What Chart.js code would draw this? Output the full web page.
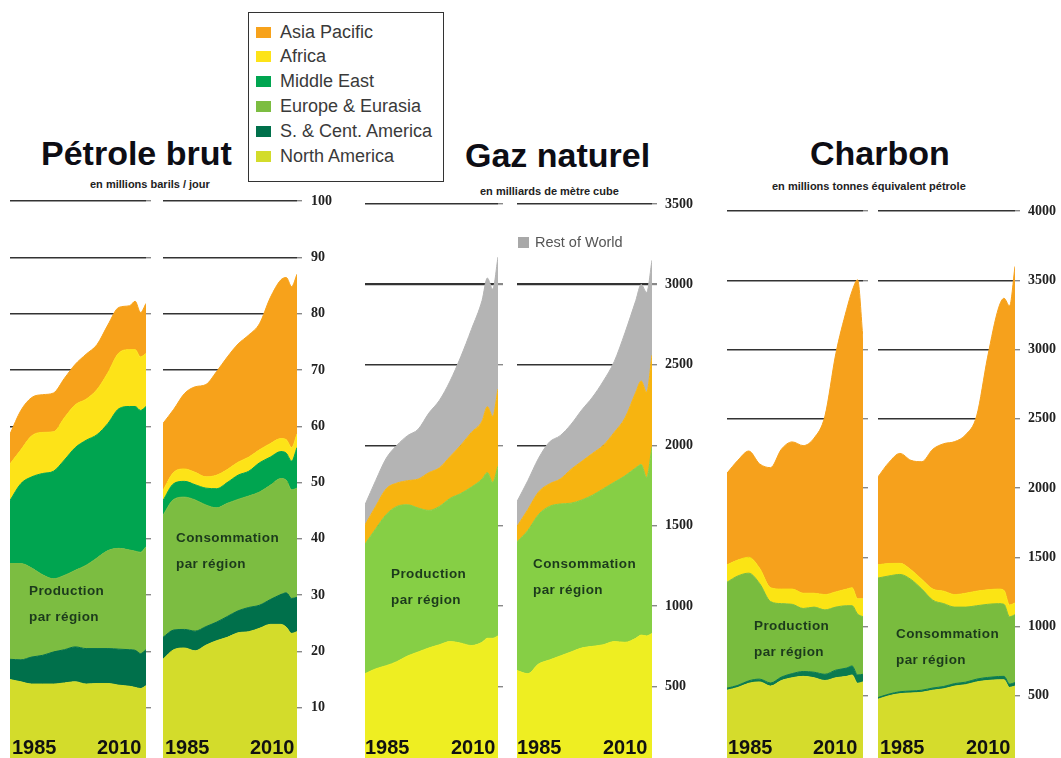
<!DOCTYPE html>
<html lang="fr">
<head>
<meta charset="utf-8">
<title>Pétrole, gaz et charbon par région</title>
<script src="https://cdn.jsdelivr.net/npm/chart.js@4.4.1/dist/chart.umd.min.js"></script>
<style>
  html, body { margin: 0; padding: 0; background: #fff; width: 1061px; height: 758px; overflow: hidden; }
  #page { position: relative; width: 1061px; height: 758px; font-family: "Liberation Sans", Arial, sans-serif; }
  canvas { position: absolute; }
  .title { position: absolute; font-weight: bold; font-size: 34px; line-height: 1; color: #0d0d14; white-space: nowrap; }
  .unit { position: absolute; font-weight: bold; font-size: 11px; line-height: 1; color: #222; white-space: nowrap; }
  .year { position: absolute; top: 737px; font-weight: bold; font-size: 20px; line-height: 1; color: #111; }
  .note { position: absolute; font-weight: bold; font-size: 13.5px; line-height: 26px; letter-spacing: 0.4px; color: #1c3a1c; white-space: nowrap; }
  #legend { position: absolute; left: 248px; top: 12px; width: 194px; height: 168px; border: 1px solid #333; background: #fff; }
  #legend .row { position: absolute; left: 0; height: 25px; line-height: 25px; font-size: 18px; color: #3a3a3a; white-space: nowrap; }
  #legend .sw { position: absolute; left: 7px; top: 7px; width: 15px; height: 11px; }
  #legend .txt { position: absolute; left: 31px; top: 0; }
  #row-legend { position: absolute; left: 518px; top: 234px; height: 16px; line-height: 16px; font-size: 14.5px; color: #555; white-space: nowrap; }
  #row-legend span { display: inline-block; width: 11px; height: 11px; background: #a8a8a8; margin-right: 6px; vertical-align: -1px; }
</style>
</head>
<body>
<div id="page">
  <div class="title" style="left:41px; top:135.6px;">Pétrole brut</div>
  <div class="title" style="left:465px; top:137.6px;">Gaz naturel</div>
  <div class="title" style="left:810px; top:135.6px;">Charbon</div>

  <div class="unit" style="left:90px; top:178.6px;">en millions barils / jour</div>
  <div class="unit" style="left:480px; top:185.5px;">en milliards de mètre cube</div>
  <div class="unit" style="left:772px; top:180.5px;">en millions tonnes équivalent pétrole</div>

  <canvas id="oilProd"></canvas>
  <canvas id="oilCons"></canvas>
  <canvas id="gasProd"></canvas>
  <canvas id="gasCons"></canvas>
  <canvas id="coalProd"></canvas>
  <canvas id="coalCons"></canvas>

  <div id="legend"></div>
  <div id="row-legend"><span></span>Rest of World</div>

  <div class="note" style="left:29px; top:578px;">Production<br>par région</div>
  <div class="note" style="left:176px; top:525px;">Consommation<br>par région</div>
  <div class="note" style="left:391px; top:561px;">Production<br>par région</div>
  <div class="note" style="left:533px; top:551px;">Consommation<br>par région</div>
  <div class="note" style="left:754px; top:613px;">Production<br>par région</div>
  <div class="note" style="left:896px; top:621px;">Consommation<br>par région</div>

  <div class="year" style="left:12px;">1985</div>
  <div class="year" style="left:97px;">2010</div>
  <div class="year" style="left:165px;">1985</div>
  <div class="year" style="left:250px;">2010</div>
  <div class="year" style="left:365px;">1985</div>
  <div class="year" style="left:451px;">2010</div>
  <div class="year" style="left:517px;">1985</div>
  <div class="year" style="left:603px;">2010</div>
  <div class="year" style="left:728px;">1985</div>
  <div class="year" style="left:813px;">2010</div>
  <div class="year" style="left:880px;">1985</div>
  <div class="year" style="left:966px;">2010</div>
</div>

<script>
// years sampled along the x axis
const years = [1985, 1987, 1989, 1991, 1993, 1995, 1997, 1999, 2001, 2003, 2005, 2007, 2008, 2009, 2010];

const regions = ['Asia Pacific', 'Africa', 'Middle East', 'Europe & Eurasia', 'S. & Cent. America', 'North America'];

// Pétrole brut - production (millions barils / jour)
const oilProdNorthAmerica = [15.0, 14.6, 14.2, 14.2, 14.2, 14.4, 14.6, 14.2, 14.3, 14.3, 14.0, 13.8, 13.6, 13.4, 13.9];
const oilProdSouthAmerica = [3.6, 3.9, 4.8, 5.1, 5.7, 5.9, 6.2, 6.3, 6.2, 6.2, 6.4, 6.5, 6.6, 6.2, 6.4];
const oilProdEurope = [17.0, 17.1, 15.8, 14.3, 13.0, 13.2, 13.6, 14.8, 16.1, 17.4, 17.9, 17.7, 17.6, 18.0, 18.3];
const oilProdMiddleEast = [11.2, 14.2, 16.2, 18.0, 19.1, 20.5, 21.8, 22.2, 21.9, 22.6, 24.8, 25.5, 25.7, 25.2, 24.9];
const oilProdAfrica = [6.5, 6.0, 7.3, 7.3, 7.0, 7.5, 7.6, 7.3, 8.0, 9.0, 9.9, 10.1, 10.1, 9.5, 9.4];
const oilProdAsia = [5.3, 7.0, 6.8, 6.7, 6.9, 7.0, 7.2, 8.0, 8.0, 8.5, 8.1, 7.8, 8.6, 7.9, 8.9];

// Pétrole brut - consommation
const oilConsNorthAmerica = [18.6, 20.3, 20.6, 20.1, 21.1, 21.9, 22.5, 23.3, 23.5, 24.1, 24.8, 24.8, 24.3, 23.2, 23.5];
const oilConsSouthAmerica = [3.9, 3.5, 3.3, 3.5, 3.3, 3.3, 3.7, 3.9, 4.3, 4.1, 4.4, 5.3, 6.1, 6.2, 6.1];
const oilConsEurope = [21.7, 23.2, 23.5, 23.3, 21.6, 20.3, 20.1, 19.8, 19.8, 20.1, 20.3, 20.6, 20.0, 19.3, 19.4];
const oilConsMiddleEast = [2.6, 2.8, 2.8, 2.7, 3.0, 3.4, 3.7, 4.3, 4.4, 5.2, 5.0, 4.8, 4.8, 5.1, 7.2];
const oilConsAfrica = [1.8, 2.0, 2.2, 2.2, 2.0, 2.4, 2.3, 2.3, 2.5, 2.3, 2.4, 2.3, 2.4, 2.4, 2.4];
const oilConsAsia = [11.9, 11.2, 13.4, 15.2, 16.4, 18.4, 20.0, 21.0, 21.7, 22.4, 25.9, 28.2, 28.8, 28.6, 28.4];

// Gaz naturel - production (milliards de m3)
const gasProdNorthAmerica = [580, 610, 630, 655, 690, 715, 740, 760, 780, 770, 755, 775, 800, 800, 815];
const gasProdEurope = [805, 870, 940, 965, 940, 895, 855, 860, 890, 930, 985, 1015, 1030, 970, 1055];
const gasProdAsia = [120, 140, 160, 145, 150, 180, 235, 240, 260, 300, 340, 360, 410, 410, 480];
const gasProdRest = [125, 160, 190, 235, 280, 310, 370, 420, 470, 550, 640, 750, 800, 790, 820];

// Gaz naturel - consommation
const gasConsNorthAmerica = [600, 580, 640, 665, 690, 715, 740, 750, 760, 780, 775, 800, 820, 815, 830];
const gasConsEurope = [800, 890, 930, 955, 945, 925, 920, 940, 970, 990, 1035, 1060, 1060, 985, 1160];
const gasConsAsia = [95, 130, 140, 140, 155, 210, 240, 260, 270, 310, 360, 470, 520, 530, 570];
const gasConsRest = [155, 180, 210, 260, 270, 280, 320, 350, 400, 440, 530, 570, 600, 620, 590];

// Charbon - production (millions tep)
const coalProdNorthAmerica = [540, 560, 590, 600, 570, 610, 630, 640, 630, 610, 630, 640, 650, 590, 600];
const coalProdSouthAmerica = [15, 15, 18, 20, 22, 25, 30, 35, 40, 45, 55, 60, 65, 60, 55];
const coalProdEurope = [765, 790, 777, 690, 588, 530, 500, 455, 470, 465, 455, 450, 435, 440, 415];
const coalProdAfrica = [125, 115, 115, 110, 100, 105, 110, 110, 100, 110, 110, 120, 130, 110, 130];
const coalProdAsia = [662, 720, 767, 754, 867, 1010, 1063, 1066, 1120, 1289, 1719, 2020, 2143, 2303, 1877];

// Charbon - consommation
const coalConsNorthAmerica = [475, 500, 515, 520, 525, 540, 550, 570, 580, 600, 610, 615, 615, 560, 570];
const coalConsSouthAmerica = [12, 12, 14, 14, 15, 16, 17, 18, 18, 20, 22, 24, 25, 24, 25];
const coalConsEurope = [863, 853, 847, 806, 730, 634, 598, 552, 542, 530, 528, 526, 520, 486, 490];
const coalConsAfrica = [95, 90, 80, 70, 70, 80, 90, 90, 100, 105, 105, 105, 100, 85, 85];
const coalConsAsia = [635, 730, 794, 790, 850, 1010, 1065, 1105, 1145, 1265, 1680, 2030, 2110, 2160, 2430];

const oilColors = {
    'North America': '#d3dc2b',
    'S. & Cent. America': '#00704b',
    'Europe & Eurasia': '#7cbd41',
    'Middle East': '#00a550',
    'Africa': '#fde318',
    'Asia Pacific': '#f7a21b'
};
const gasColors = { na: '#eeee22', eu: '#86cf45', ap: '#f7b410', rest: '#b4b4b4' };

// legend box
const legendBox = document.getElementById('legend');
regions.forEach((name, i) => {
    const row = document.createElement('div');
    row.className = 'row';
    row.style.top = (6.5 + 24.8 * i) + 'px';
    row.innerHTML = '<div class="sw" style="background:' + oilColors[name] + '"></div><div class="txt">' + name + '</div>';
    legendBox.appendChild(row);
});

function buildDatasets(layers) {
    return layers.map((layer, i) => ({
        label: layer.label,
        data: years.map((yr, j) => ({ x: yr, y: layer.values[j] })),
        backgroundColor: layer.color,
        borderColor: layer.color,
        borderWidth: 1,
        pointRadius: 0,
        tension: 0.25,
        cubicInterpolationMode: 'monotone',
        fill: i === 0 ? 'origin' : '-1'
    }));
}

function drawPanel(id, pos, axis, layers) {
    const canvas = document.getElementById(id);
    canvas.width = pos.w + axis.width;
    canvas.height = pos.bottom - 190;
    canvas.style.left = pos.left + 'px';
    canvas.style.top = '190px';

    return new Chart(canvas, {
        type: 'line',
        data: { datasets: buildDatasets(layers) },
        options: {
            responsive: false,
            animation: false,
            devicePixelRatio: 1,
            layout: { padding: { top: axis.padTop, left: 0, right: 0, bottom: 0 } },
            plugins: {
                legend: { display: false },
                tooltip: { enabled: false }
            },
            scales: {
                x: { type: 'linear', min: 1985, max: 2010, display: false },
                y: {
                    position: 'right',
                    stacked: true,
                    min: 0,
                    max: axis.max,
                    border: { display: false },
                    ticks: {
                        stepSize: axis.step,
                        display: axis.labels,
                        padding: axis.pad,
                        color: '#222',
                        font: { family: '"Liberation Serif", "Times New Roman", serif', size: 14, weight: 'bold' },
                        callback: v => (v === 0 ? '' : v)
                    },
                    grid: {
                        color: ctx => (ctx.tick && ctx.tick.value === 0 ? 'rgba(0,0,0,0)' : '#333'),
                        lineWidth: ctx => (ctx.tick && ctx.tick.value === axis.thick ? 2.2 : 1.4),
                        tickLength: 5,
                        tickColor: ctx => (ctx.tick && ctx.tick.value === 0 ? 'rgba(0,0,0,0)' : '#888')
                    },
                    afterFit: scale => {
                        scale.width = axis.width;
                        scale.paddingTop = 0;
                        scale.paddingBottom = 0;
                    }
                }
            }
        }
    });
}

// Pétrole brut
const oilAxis = { max: 100, step: 10, padTop: 11, pad: 9, thick: null };
function oilLayers(na, sa, eu, me, af, ap) {
    return [
        { label: 'North America', values: na, color: oilColors['North America'] },
        { label: 'S. & Cent. America', values: sa, color: oilColors['S. & Cent. America'] },
        { label: 'Europe & Eurasia', values: eu, color: oilColors['Europe & Eurasia'] },
        { label: 'Middle East', values: me, color: oilColors['Middle East'] },
        { label: 'Africa', values: af, color: oilColors['Africa'] },
        { label: 'Asia Pacific', values: ap, color: oilColors['Asia Pacific'] }
    ];
}
drawPanel('oilProd', { left: 10, w: 136, bottom: 764 }, Object.assign({}, oilAxis, { width: 8, labels: false }),
    oilLayers(oilProdNorthAmerica, oilProdSouthAmerica, oilProdEurope, oilProdMiddleEast, oilProdAfrica, oilProdAsia));
drawPanel('oilCons', { left: 163, w: 134, bottom: 764 }, Object.assign({}, oilAxis, { width: 44, labels: true }),
    oilLayers(oilConsNorthAmerica, oilConsSouthAmerica, oilConsEurope, oilConsMiddleEast, oilConsAfrica, oilConsAsia));

// Gaz naturel
const gasAxis = { max: 3500, step: 500, padTop: 14, pad: 8, thick: 3000 };
function gasLayers(na, eu, ap, rest) {
    return [
        { label: 'North America', values: na, color: gasColors.na },
        { label: 'Europe & Eurasia', values: eu, color: gasColors.eu },
        { label: 'Asia Pacific', values: ap, color: gasColors.ap },
        { label: 'Rest of World', values: rest, color: gasColors.rest }
    ];
}
drawPanel('gasProd', { left: 365, w: 133, bottom: 767 }, Object.assign({}, gasAxis, { width: 8, labels: false }),
    gasLayers(gasProdNorthAmerica, gasProdEurope, gasProdAsia, gasProdRest));
drawPanel('gasCons', { left: 517, w: 135, bottom: 767 }, Object.assign({}, gasAxis, { width: 50, labels: true }),
    gasLayers(gasConsNorthAmerica, gasConsEurope, gasConsAsia, gasConsRest));

// Charbon
const coalAxis = { max: 4000, step: 500, padTop: 21, pad: 8, thick: null };
function coalLayers(na, sa, eu, af, ap) {
    return [
        { label: 'North America', values: na, color: '#d5dc2c' },
        { label: 'S. & Cent. America', values: sa, color: '#0a7a50' },
        { label: 'Europe & Eurasia', values: eu, color: '#79bc3e' },
        { label: 'Africa', values: af, color: '#fbe414' },
        { label: 'Asia Pacific', values: ap, color: '#f6a11c' }
    ];
}
drawPanel('coalProd', { left: 727, w: 136, bottom: 765 }, Object.assign({}, coalAxis, { width: 8, labels: false }),
    coalLayers(coalProdNorthAmerica, coalProdSouthAmerica, coalProdEurope, coalProdAfrica, coalProdAsia));
drawPanel('coalCons', { left: 878, w: 137, bottom: 765 }, Object.assign({}, coalAxis, { width: 46, labels: true }),
    coalLayers(coalConsNorthAmerica, coalConsSouthAmerica, coalConsEurope, coalConsAfrica, coalConsAsia));
</script>
</body>
</html>
